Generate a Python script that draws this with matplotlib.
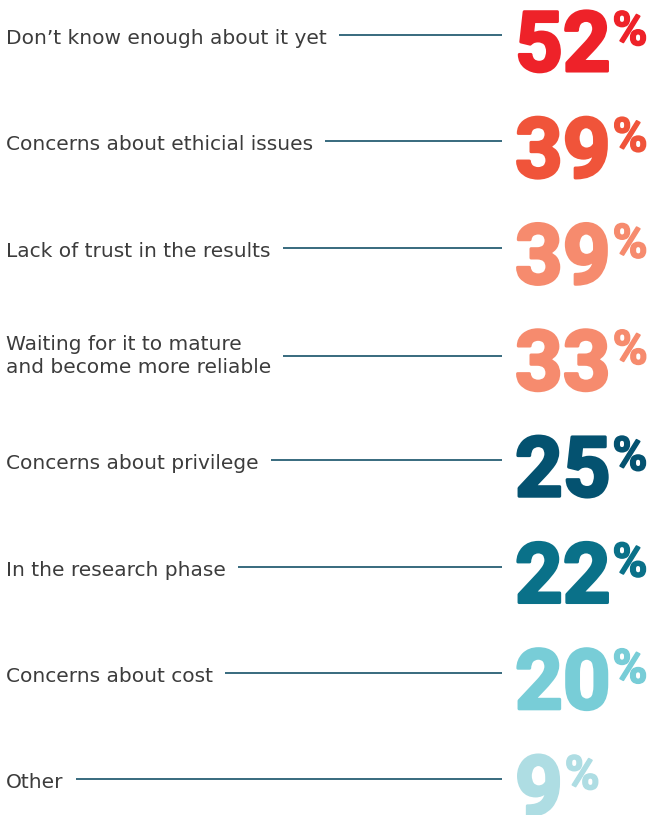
import matplotlib.pyplot as plt
import matplotlib.patheffects as pe

labels = [
    "Don\u2019t know enough about it yet",
    "Concerns about ethicial issues",
    "Lack of trust in the results",
    "Waiting for it to mature\nand become more reliable",
    "Concerns about privilege",
    "In the research phase",
    "Concerns about cost",
    "Other",
]
values = [52, 39, 39, 33, 25, 22, 20, 9]
colors = ["#EE2229", "#F0543A", "#F68B6E", "#F68B6E",
          "#045270", "#0A7189", "#78CDD7", "#AEDDE3"]

W, H = 651, 815
fig = plt.figure(figsize=(W / 100, H / 100), dpi=100)
ax = fig.add_axes([0, 0, 1, 1])
ax.set_xlim(0, W)
ax.set_ylim(H, 0)
ax.axis("off")

row_h = 106.3
first_base = 72      # baseline of the first big number
line_end = 502
num_x = 515
gap = 12

fig.canvas.draw()
renderer = fig.canvas.get_renderer()

for i, (lab, val, col) in enumerate(zip(labels, values, colors)):
    base = first_base + i * row_h
    line_y = base - 37
    if i == 3:
        line_y = base - 35
    # label (va=baseline -> last line's baseline)
    ty = line_y + 17 if "\n" in lab else line_y + 9
    t = ax.text(6, ty, lab, fontsize=14.5, family="DejaVu Sans",
                color="#3c3c3c", va="baseline", ha="left", linespacing=1.25)
    bb = t.get_window_extent(renderer).transformed(ax.transData.inverted())
    x_end = max(bb.x0, bb.x1)
    ax.plot([x_end + gap, line_end], [line_y, line_y],
            color="#285f74", lw=1.3, solid_capstyle="butt")
    # big number
    n = ax.text(num_x, base - 1, str(val), fontsize=60, family="Roboto",
                fontweight="bold", color=col, va="baseline", ha="left",
                path_effects=[pe.withStroke(linewidth=2.2, foreground=col)])
    nb = n.get_window_extent(renderer).transformed(ax.transData.inverted())
    ax.text(max(nb.x0, nb.x1) + 2, base - 62, "%", fontsize=34,
            family="Roboto", fontweight="bold", color=col,
            va="top", ha="left",
            path_effects=[pe.withStroke(linewidth=1.2, foreground=col)])

fig.savefig("out.png", dpi=100)
